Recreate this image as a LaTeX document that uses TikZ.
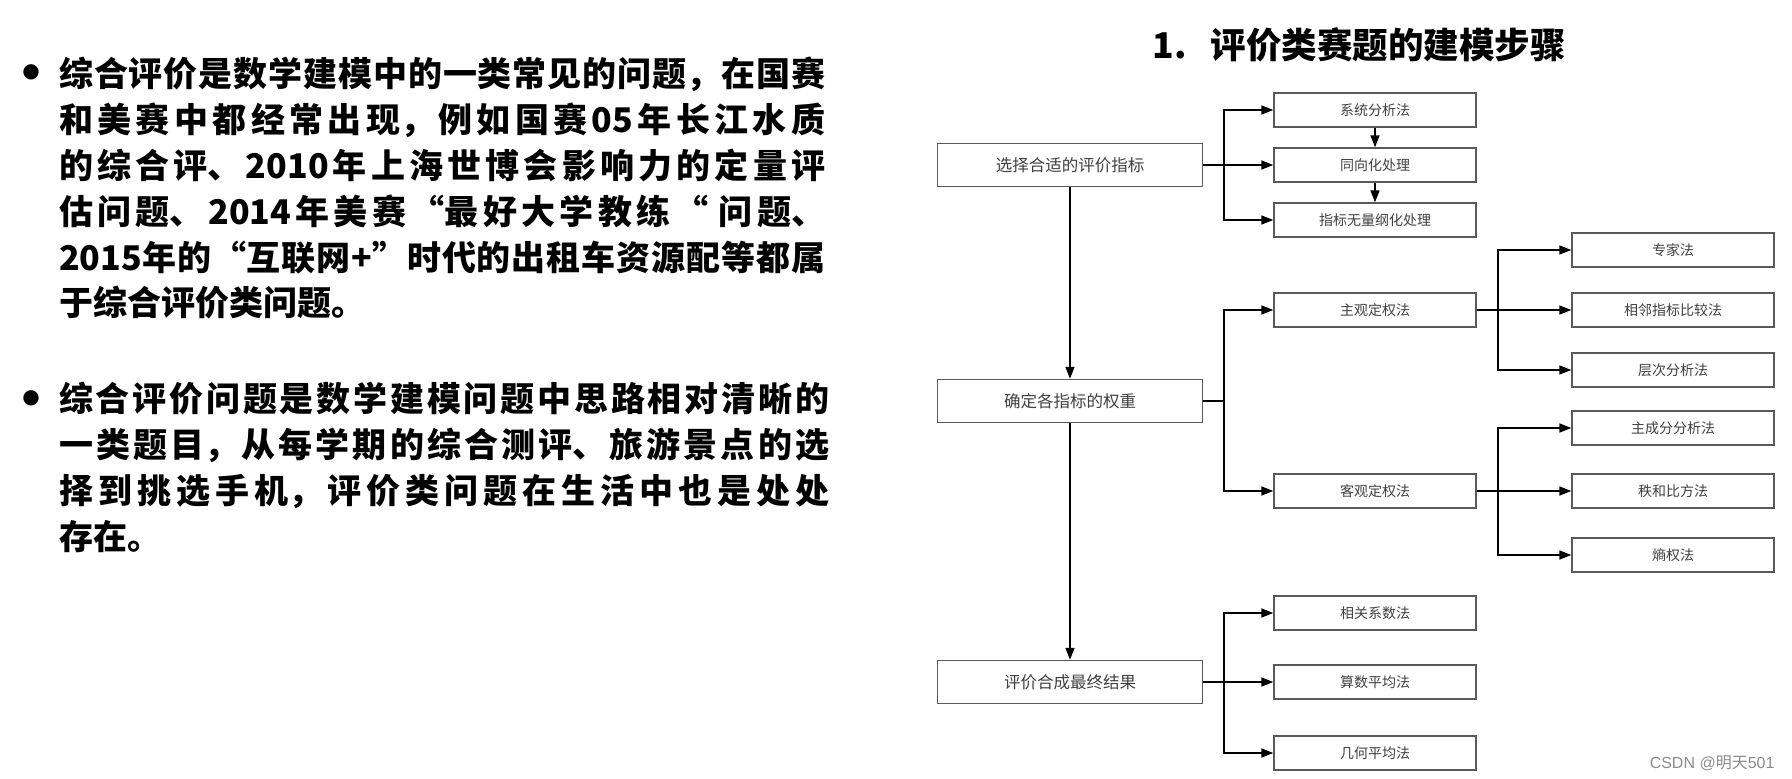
\documentclass[tikz,border=0pt]{standalone}
\usepackage{fontspec}
\setmainfont{Noto Sans CJK SC}
\newfontfamily\symfont{DejaVu Sans}
\newfontfamily\markfont{Liberation Sans}
\usetikzlibrary{arrows.meta,positioning}

\XeTeXlinebreaklocale "zh"
\XeTeXlinebreakskip=0pt plus 8pt
\tolerance=10000

\tikzset{
  stepbox/.style={draw=black!65, line width=1.4pt, fill=white, inner sep=0pt,
    minimum width=202pt, minimum height=34pt,
    text=black!75, font=\fontsize{14}{14}\selectfont},
  mainbox/.style={stepbox, minimum width=265pt, minimum height=43pt,
    font=\fontsize{16.5}{16.5}\selectfont},
  flow/.style={line width=1.6pt, -{Triangle[length=12pt,width=9pt]}},
  link/.style={line width=1.6pt},
  para/.style={anchor=north west, inner sep=0pt, text width=766pt, align=justify,
    font=\bfseries\fontsize{34}{45.8}\selectfont},
  bullet/.style={inner sep=0pt, font=\symfont\fontsize{20}{20}\selectfont}
}

\begin{document}
\begin{tikzpicture}[x=1pt,y=-1pt]
    \fill[white] (0,0) rectangle (1792,779);
    \useasboundingbox (0,0) rectangle (1792,779);

    % left text
    \node[bullet] (bulA) at (31,72) {●};
    \node[para] (parA) at (59,57) {综合评价是数学建模中的一类常见的问题，在国赛\linebreak
      和美赛中都经常出现，例如国赛05年长江水质\linebreak
      的综合评、2010年上海世博会影响力的定量评\linebreak
      估问题、2014年美赛“最好大学教练“ 问题、\linebreak
      2015年的“互联网+”时代的出租车资源配等都属\linebreak
      于综合评价类问题。};

    \node[bullet] (bulB) at (31,398) {●};
    \node[para, text width=770pt] (parB) at (59,382) {综合评价问题是数学建模问题中思路相对清晰的\linebreak
      一类题目，从每学期的综合测评、旅游景点的选\linebreak
      择到挑选手机，评价类问题在生活中也是处处\linebreak
      存在。};

    % diagram
    \node[font=\bfseries\fontsize{35.5}{35.5}\selectfont] (title) at (1359,45) {1.\hspace{24pt}评价类赛题的建模步骤};

    \node[mainbox] (sel) at (1070,165) {选择合适的评价指标};
    \node[mainbox] (wt)  at (1070,401) {确定各指标的权重};
    \node[mainbox] (syn) at (1070,682) {评价合成最终结果};

    \foreach \nm/\yy/\txt in {sys/110/系统分析法, dir/165/同向化处理, dim/220/指标无量纲化处理,
      subj/310/主观定权法, obj/491/客观定权法,
      corr/613/相关系数法, arith/682/算数平均法, geo/753/几何平均法}
      \node[stepbox] (\nm) at (1375,\yy) {\txt};

    \foreach \nm/\yy/\txt in {exp/250/专家法, adj/310/相邻指标比较法, ahp/370/层次分析法,
      pca/428/主成分分析法, rsr/491/秩和比方法, ent/555/熵权法}
      \node[stepbox] (\nm) at (1673,\yy) {\txt};

    \coordinate (busA) at (1224,0);
    \coordinate (busB) at (1498,0);

    % indicators
    \draw[flow] (sel) -- (dir);
    \foreach \nm in {sys,dim}
      \draw[flow] (busA |- sel.east) |- (\nm.west);
    \draw[flow] (sys) -- (dir);
    \draw[flow] (dir) -- (dim);

    % main column
    \draw[flow] (sel) -- (wt);
    \draw[flow] (wt) -- (syn);

    % weights
    \draw[link] (wt.east) -- (busA |- wt.east);
    \foreach \nm in {subj,obj}
      \draw[flow] (busA |- wt.east) |- (\nm.west);
    \draw[flow] (subj) -- (adj);
    \foreach \nm in {exp,ahp}
      \draw[flow] (busB |- subj.east) |- (\nm.west);
    \draw[flow] (obj) -- (rsr);
    \foreach \nm in {pca,ent}
      \draw[flow] (busB |- obj.east) |- (\nm.west);

    % synthesis
    \draw[flow] (syn) -- (arith);
    \foreach \nm in {corr,geo}
      \draw[flow] (busA |- syn.east) |- (\nm.west);

    \node[anchor=east, text=black!45, font=\markfont\fontsize{16}{16}\selectfont] (mark) at (1778,763) {CSDN @{\rmfamily 明天}501};
\end{tikzpicture}
\end{document}
